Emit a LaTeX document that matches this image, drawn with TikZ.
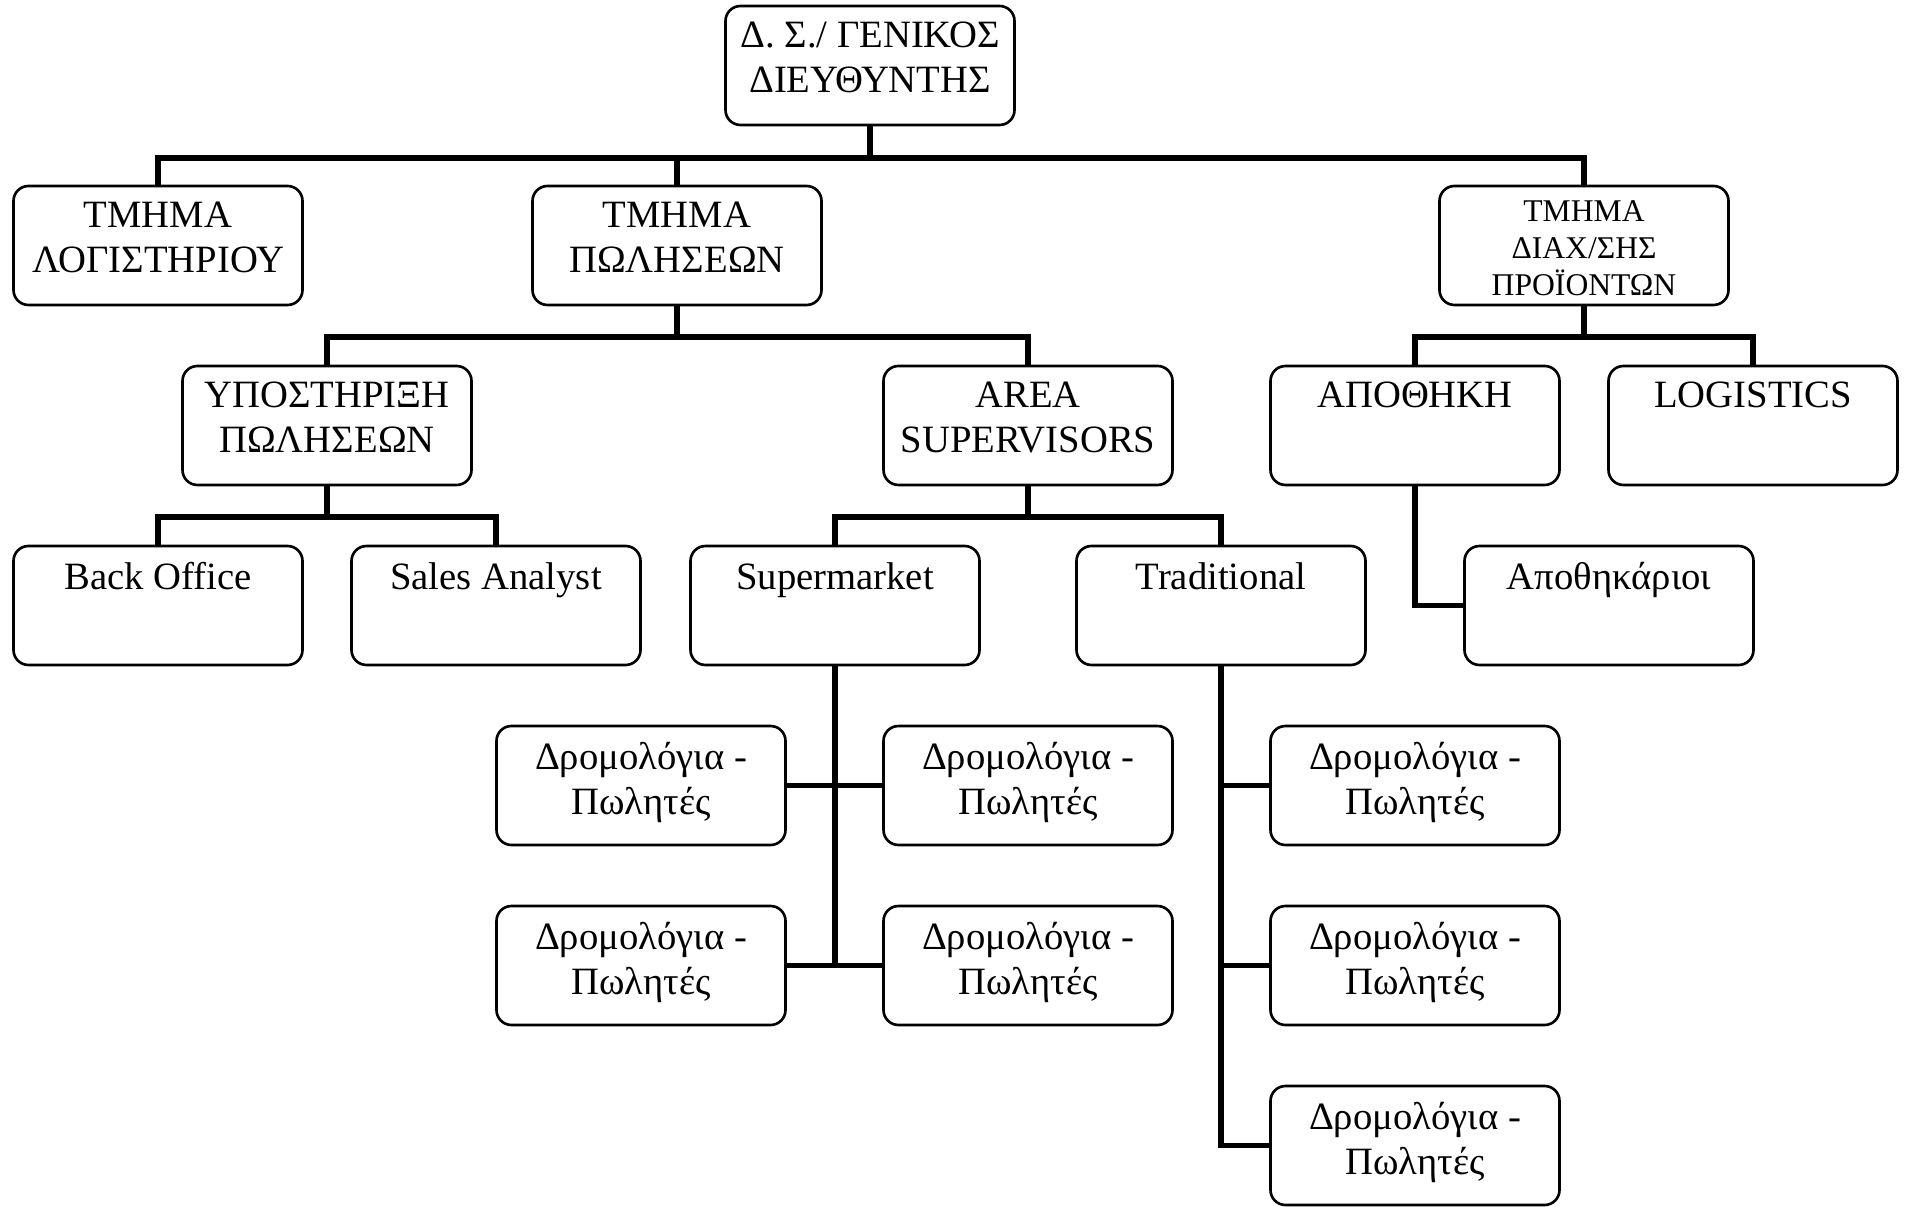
\documentclass[tikz,border=0pt]{standalone}
\usepackage{fontspec}
\setmainfont{Liberation Serif}
\usepackage{tikz}

\begin{document}
\begin{tikzpicture}[
  box/.style={draw, line width=0.75pt, rounded corners=0.15cm, minimum width=2.89cm, minimum height=1.19cm, inner sep=0pt},
  txt/.style={anchor=north, align=center, inner sep=0pt, yshift=-0.17cm, font=\fontsize{11}{12.8}\selectfont},
  smalltxt/.style={anchor=north, align=center, inner sep=0pt, yshift=-0.15cm, font=\fontsize{9}{10.5}\selectfont},
  conn/.style={line width=1.7pt}]
\useasboundingbox (0,0) rectangle (19.05,-12.07);

\node[box, label={[txt]north:Δ. Σ./ ΓΕΝΙΚΟΣ\\ΔΙΕΥΘΥΝΤΗΣ}] (gd) at (8.70,-0.655) {};

\node[box, label={[txt]north:ΤΜΗΜΑ\\ΛΟΓΙΣΤΗΡΙΟΥ}] (log) at (1.58,-2.455) {};
\node[box, label={[txt]north:ΤΜΗΜΑ\\ΠΩΛΗΣΕΩΝ}] (pol) at (6.77,-2.455) {};
\node[box, label={[smalltxt]north:ΤΜΗΜΑ\\ΔΙΑΧ/ΣΗΣ\\ΠΡΟΪΟΝΤΩΝ}] (diax) at (15.84,-2.455) {};

\node[box, label={[txt]north:ΥΠΟΣΤΗΡΙΞΗ\\ΠΩΛΗΣΕΩΝ}] (ypo) at (3.27,-4.255) {};
\node[box, label={[txt]north:AREA\\SUPERVISORS}] (area) at (10.28,-4.255) {};
\node[box, label={[txt]north:ΑΠΟΘΗΚΗ}] (apo) at (14.15,-4.255) {};
\node[box, label={[txt]north:LOGISTICS}] (lgs) at (17.53,-4.255) {};

\node[box, label={[txt]north:Back Office}] (bo) at (1.58,-6.055) {};
\node[box, label={[txt]north:Sales Analyst}] (sa) at (4.96,-6.055) {};
\node[box, label={[txt]north:Supermarket}] (sm) at (8.35,-6.055) {};
\node[box, label={[txt]north:Traditional}] (tr) at (12.21,-6.055) {};
\node[box, label={[txt]north:Αποθηκάριοι}] (apk) at (16.09,-6.055) {};

\node[box, label={[txt]north:Δρομολόγια -\\Πωλητές}] (s1) at (6.41,-7.855) {};
\node[box, label={[txt]north:Δρομολόγια -\\Πωλητές}] (s2) at (10.28,-7.855) {};
\node[box, label={[txt]north:Δρομολόγια -\\Πωλητές}] (s3) at (6.41,-9.655) {};
\node[box, label={[txt]north:Δρομολόγια -\\Πωλητές}] (s4) at (10.28,-9.655) {};
\node[box, label={[txt]north:Δρομολόγια -\\Πωλητές}] (t1) at (14.15,-7.855) {};
\node[box, label={[txt]north:Δρομολόγια -\\Πωλητές}] (t2) at (14.15,-9.655) {};
\node[box, label={[txt]north:Δρομολόγια -\\Πωλητές}] (t3) at (14.15,-11.455) {};

\draw[conn] (gd.south) -- ++(0,-0.32) coordinate (b1);
\draw[conn] (b1) -| (log.north);
\draw[conn] (b1) -| (pol.north);
\draw[conn] (b1) -| (diax.north);

\draw[conn] (pol.south) -- ++(0,-0.31) coordinate (b2);
\draw[conn] (b2) -| (ypo.north);
\draw[conn] (b2) -| (area.north);

\draw[conn] (diax.south) -- ++(0,-0.31) coordinate (b3);
\draw[conn] (b3) -| (apo.north);
\draw[conn] (b3) -| (lgs.north);

\draw[conn] (ypo.south) -- ++(0,-0.31) coordinate (b4);
\draw[conn] (b4) -| (bo.north);
\draw[conn] (b4) -| (sa.north);

\draw[conn] (area.south) -- ++(0,-0.31) coordinate (b5);
\draw[conn] (b5) -| (sm.north);
\draw[conn] (b5) -| (tr.north);

\draw[conn] (apo.south) |- (apk.west);

\draw[conn] (sm.south) -- (sm.south |- s3.east);
\draw[conn] (s1.east) -- (s2.west);
\draw[conn] (s3.east) -- (s4.west);

\draw[conn] (tr.south) |- (t3.west);
\draw[conn] (tr.south |- t1.west) -- (t1.west);
\draw[conn] (tr.south |- t2.west) -- (t2.west);
\end{tikzpicture}
\end{document}
